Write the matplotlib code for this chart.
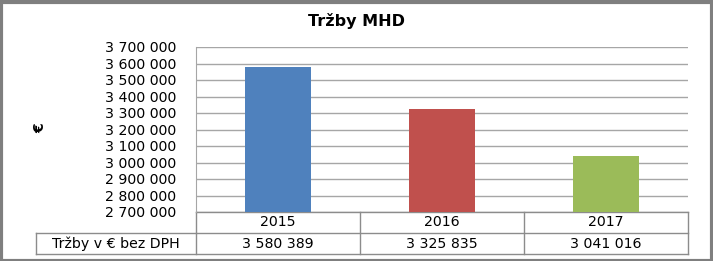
import numpy as np
import matplotlib
matplotlib.use('Agg')
import matplotlib.pyplot as plt
from matplotlib.patches import Rectangle

# Data
years = ['2015', '2016', '2017']
trzby = [3580389, 3325835, 3041016]
bar_colors = ['#4F81BD', '#C0504D', '#9BBB59']
row_label = 'Tržby v € bez DPH'
y_ticks = [2700000, 2800000, 2900000, 3000000, 3100000,
           3200000, 3300000, 3400000, 3500000, 3600000, 3700000]


def fmt(v):
    return f'{v:,}'.replace(',', ' ')


W, H = 713, 261
fig = plt.figure(figsize=(W / 100, H / 100), dpi=100)
fig.patch.set_facecolor('white')
plt.rcParams['font.family'] = ['DejaVu Sans']

# plot area in pixels: x 196..688, y 47..212
ax = fig.add_axes([196 / W, 1 - 212 / H, (688 - 196) / W, (212 - 47) / H])

x = np.arange(len(years))
ax.bar(x, trzby, width=0.4, color=bar_colors, zorder=3)
ax.set_xlim(-0.5, len(years) - 0.5)
ax.set_ylim(y_ticks[0], y_ticks[-1])
ax.set_yticks(y_ticks)
ax.set_yticklabels([fmt(t) for t in y_ticks], fontsize=10.2)
ax.tick_params(axis='y', length=0, pad=14)
ax.set_xticks([])
ax.grid(axis='y', color='#A6A6A6', linewidth=1, zorder=0)
for s in ['top', 'right', 'bottom']:
    ax.spines[s].set_visible(False)
ax.spines['left'].set_color('#A6A6A6')

# y axis title
fig.text(40 / W, 1 - 128 / H, '€', rotation=90, ha='center', va='center',
         fontsize=10, fontweight='bold')

# Title
fig.text(357 / W, 1 - 21 / H, 'Tržby MHD', ha='center', va='center',
         fontsize=11.5, fontweight='bold')

# Data table under the axes
ph = 212 - 47
r1 = -(233 - 212) / ph
r2 = -(254 - 212) / ph
lx = (36 - 196) / (688 - 196)
lc = '#8C8C8C'
tr = ax.transAxes
ax.plot([0, 1], [0, 0], color=lc, lw=1, transform=tr, clip_on=False)
ax.plot([0, 1], [r1, r1], color=lc, lw=1, transform=tr, clip_on=False)
ax.plot([lx, 1], [r2, r2], color=lc, lw=1, transform=tr, clip_on=False)
ax.plot([lx, lx], [r1, r2], color=lc, lw=1, transform=tr, clip_on=False)
ax.plot([lx, 0], [r1, r1], color=lc, lw=1, transform=tr, clip_on=False)
n = len(years)
for i in range(n + 1):
    xx = i / n
    ax.plot([xx, xx], [0, r2], color=lc, lw=1, transform=tr, clip_on=False)
for i in range(n):
    xc = (i + 0.5) / n
    ax.text(xc, r1 / 2, years[i], transform=tr, ha='center', va='center',
            fontsize=10.2)
    ax.text(xc, (r1 + r2) / 2, fmt(trzby[i]), transform=tr, ha='center',
            va='center', fontsize=10.2)
ax.text(lx / 2, (r1 + r2) / 2, row_label, transform=tr, ha='center',
        va='center', fontsize=10.2)

# outer chart border
fig.patches.append(Rectangle((0.5 / W, 0.5 / H), 1 - 2 / W, 1 - 2 / H,
                             transform=fig.transFigure, fill=False,
                             edgecolor='#7F7F7F', linewidth=3))

fig.savefig('out.png', dpi=100)
